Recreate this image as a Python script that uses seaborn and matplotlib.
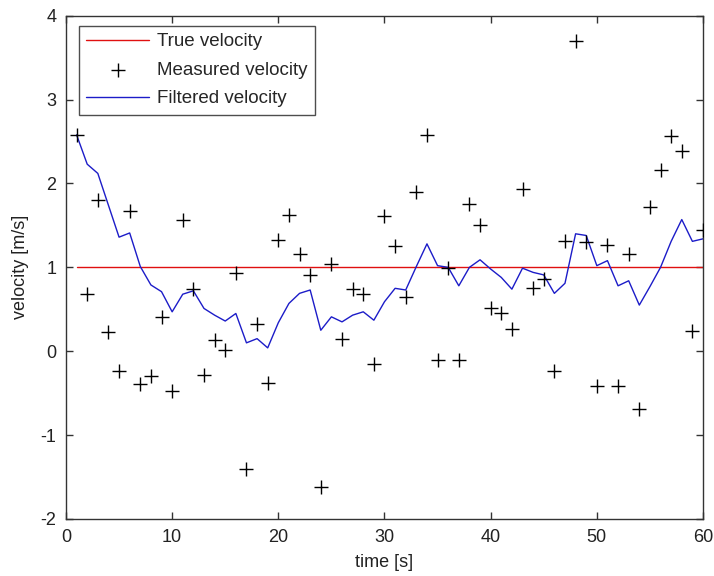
import matplotlib
matplotlib.use("Agg")
import matplotlib.pyplot as plt
import pandas as pd
import seaborn as sns

# Sample times [s]
time_s = list(range(1, 61))

# Constant true velocity [m/s]
true_velocity = [1.0] * 60

# Noisy velocity measurements [m/s]
measured_velocity = [
    2.58, 0.68, 1.80, 0.23, -0.23, 1.67, -0.39, -0.29, 0.41, -0.47,
    1.56, 0.74, -0.28, 0.13, 0.02, 0.93, -1.40, 0.32, -0.38, 1.33,
    1.62, 1.16, 0.91, -1.62, 1.04, 0.14, 0.74, 0.68, -0.15, 1.61,
    1.25, 0.65, 1.90, 2.58, -0.10, 0.99, -0.10, 1.76, 1.51, 0.51,
    0.45, 0.27, 1.93, 0.75, 0.86, -0.24, 1.32, 3.70, 1.30, -0.42,
    1.27, -0.42, 1.16, -0.69, 1.72, 2.16, 2.57, 2.39, 0.24, 1.45,
]

# Filter estimate of the velocity [m/s]
filtered_velocity = [
    2.58, 2.23, 2.12, 1.74, 1.36, 1.41, 1.01, 0.79, 0.71, 0.47,
    0.68, 0.72, 0.51, 0.43, 0.36, 0.45, 0.10, 0.15, 0.04, 0.34,
    0.57, 0.69, 0.73, 0.25, 0.41, 0.35, 0.43, 0.47, 0.37, 0.59,
    0.75, 0.73, 1.01, 1.28, 1.02, 1.00, 0.78, 1.00, 1.09, 0.98,
    0.88, 0.74, 0.99, 0.94, 0.91, 0.69, 0.81, 1.40, 1.38, 1.02,
    1.08, 0.78, 0.84, 0.55, 0.77, 1.00, 1.31, 1.57, 1.31, 1.34,
]

x_ticks = [0, 10, 20, 30, 40, 50, 60]
y_ticks = [-2, -1, 0, 1, 2, 3, 4]

df = pd.DataFrame({
    "t": time_s,
    "true": true_velocity,
    "measured": measured_velocity,
    "filtered": filtered_velocity,
})

sns.set_theme(style="white")
plt.rcParams["font.family"] = ["Liberation Sans", "DejaVu Sans"]
plt.rcParams["axes.unicode_minus"] = False

fig = plt.figure(figsize=(7.14, 5.76), dpi=100)
ax = fig.add_axes([0.0924, 0.099, 0.8922, 0.8737])

sns.lineplot(data=df, x="t", y="true", ax=ax, color="#e01010",
             linewidth=1.0, label="True velocity")
sns.scatterplot(data=df, x="t", y="measured", ax=ax, marker="+",
                color="black", s=90, linewidth=1.0,
                label="Measured velocity", zorder=3)
sns.lineplot(data=df, x="t", y="filtered", ax=ax, color="#1c1cc8",
             linewidth=1.0, label="Filtered velocity")

ax.set_xlim(0, 60)
ax.set_ylim(-2, 4)
ax.set_xticks(x_ticks)
ax.set_yticks(y_ticks)
ax.set_xlabel("time [s]", fontsize=13, color="#222222", labelpad=6)
ax.set_ylabel("velocity [m/s]", fontsize=13, color="#222222", labelpad=8)

ax.tick_params(direction="in", length=5, width=1, colors="#333333",
               labelsize=13, labelcolor="#222222",
               top=True, right=True, bottom=True, left=True, pad=7)
for side in ax.spines.values():
    side.set_color("#333333")
    side.set_linewidth(1.0)

leg = ax.legend(loc="upper left", bbox_to_anchor=(0.02, 0.98),
                borderaxespad=0, fancybox=False, frameon=True,
                edgecolor="#222222", fontsize=13.5, handlelength=3.35,
                handletextpad=0.4, labelspacing=0.6, borderpad=0.4)
leg.get_frame().set_linewidth(1.0)

fig.savefig("out.png", dpi=100, facecolor="white")
